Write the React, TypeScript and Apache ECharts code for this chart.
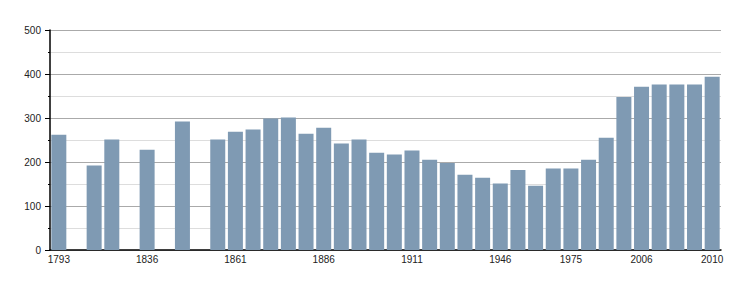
import React, { useEffect, useRef } from "react";
import * as echarts from "echarts";

const years: string[] = [
  "1793", "1800", "1806", "1821", "1831", "1836", "1841", "1846", "1851", "1856",
  "1861", "1866", "1872", "1876", "1881", "1886", "1891", "1896", "1901", "1906",
  "1911", "1921", "1926", "1931", "1936", "1946", "1954", "1962", "1968", "1975",
  "1982", "1990", "1999", "2006", "2007", "2008", "2009", "2010",
];

const population: (number | null)[] = [
  262, null, 192, 251, null, 228, null, 292, null, 251,
  269, 274, 299, 301, 264, 278, 242, 251, 221, 217,
  226, 205, 198, 171, 164, 151, 182, 146, 185, 185,
  205, 255, 348, 371, 376, 376, 376, 394,
];

const shownLabels: string[] = ["1793", "1836", "1861", "1886", "1911", "1946", "1975", "2006", "2010"];

const yTicks = { min: 0, max: 500, interval: 100 };

export default function App() {
  const ref = useRef<HTMLDivElement>(null);

  useEffect(() => {
    if (!ref.current) return;
    const chart = echarts.init(ref.current, undefined, { renderer: "svg" });
    chart.setOption({
      animation: false,
      grid: { left: 50, right: 29, top: 30, bottom: 50, containLabel: false },
      xAxis: {
        type: "category",
        data: years,
        boundaryGap: true,
        axisLine: { show: true, lineStyle: { color: "#000", width: 1.5 } },
        axisTick: { show: false },
        axisLabel: {
          interval: (_i: number, v: string) => shownLabels.includes(v),
          color: "#222",
          fontSize: 10,
          fontFamily: "Liberation Sans, Arial, sans-serif",
          margin: 4,
        },
        splitLine: { show: false },
      },
      yAxis: {
        type: "value",
        min: yTicks.min,
        max: yTicks.max,
        interval: yTicks.interval,
        axisLine: { show: true, lineStyle: { color: "#000", width: 1.5 } },
        axisTick: { show: true, length: 5, lineStyle: { color: "#000" } },
        minorTick: { show: true, splitNumber: 2, length: 2, lineStyle: { color: "#000" } },
        axisLabel: {
          color: "#222",
          fontSize: 10,
          fontFamily: "Liberation Sans, Arial, sans-serif",
          margin: 9,
        },
        splitLine: { show: true, lineStyle: { color: "#aaaaaa", width: 1 } },
        minorSplitLine: { show: true, lineStyle: { color: "#dddddd", width: 1 } },
      },
      series: [
        {
          type: "bar",
          data: population,
          barWidth: 15,
          itemStyle: { color: "#7f9ab3" },
          z: 1,
        },
      ],
    });
    return () => chart.dispose();
  }, []);

  return <div ref={ref} style={{ width: 750, height: 300, position: "absolute", left: 0, top: 0 }} />;
}
